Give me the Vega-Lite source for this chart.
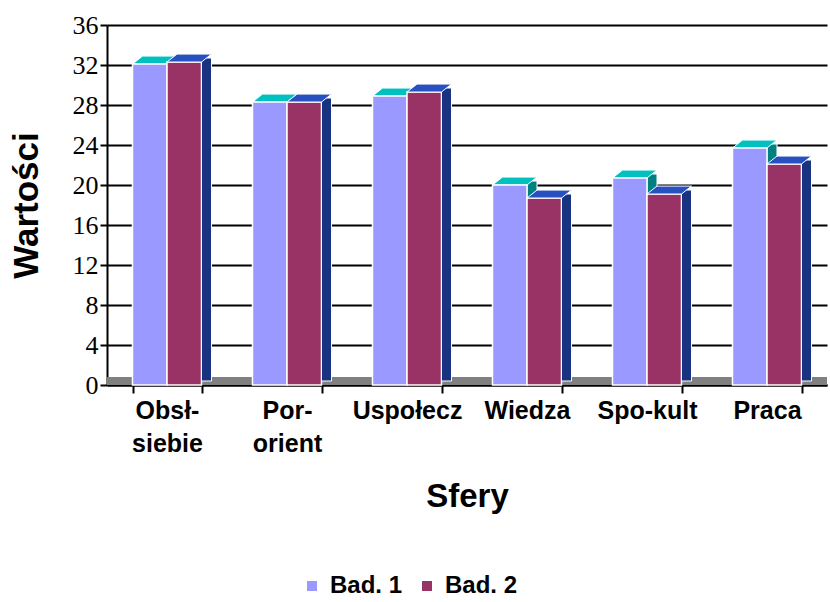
{
  "$schema": "https://vega.github.io/schema/vega-lite/v6.json",
  "width": 720,
  "height": 360,
  "autosize": {"type": "none"},
  "padding": {"left": 107, "top": 25, "right": 3, "bottom": 217},
  "background": "white",
  "config": {"view": {"stroke": null}},
  "data": {
    "values": [
      {"sfera": "Obsł-siebie", "seria": "Bad. 1", "wartosc": 32.1},
      {"sfera": "Obsł-siebie", "seria": "Bad. 2", "wartosc": 32.3},
      {"sfera": "Por-orient", "seria": "Bad. 1", "wartosc": 28.3},
      {"sfera": "Por-orient", "seria": "Bad. 2", "wartosc": 28.3},
      {"sfera": "Uspołecz", "seria": "Bad. 1", "wartosc": 28.9},
      {"sfera": "Uspołecz", "seria": "Bad. 2", "wartosc": 29.3},
      {"sfera": "Wiedza", "seria": "Bad. 1", "wartosc": 20.0},
      {"sfera": "Wiedza", "seria": "Bad. 2", "wartosc": 18.7},
      {"sfera": "Spo-kult", "seria": "Bad. 1", "wartosc": 20.7},
      {"sfera": "Spo-kult", "seria": "Bad. 2", "wartosc": 19.1},
      {"sfera": "Praca", "seria": "Bad. 1", "wartosc": 23.7},
      {"sfera": "Praca", "seria": "Bad. 2", "wartosc": 22.1}
    ]
  },
  "encoding": {
    "x": {
      "field": "sfera",
      "type": "nominal",
      "sort": null,
      "scale": {"paddingInner": 0.425, "paddingOuter": 0.2125},
      "axis": {
        "title": "Sfery",
        "titleFont": "Liberation Sans",
        "titleFontSize": 33,
        "titleFontWeight": "bold",
        "titleColor": "black",
        "titlePadding": 24,
        "labelAngle": 0,
        "labelFont": "Liberation Sans",
        "labelFontSize": 25,
        "labelFontWeight": "bold",
        "labelColor": "black",
        "labelPadding": 5,
        "labelLineHeight": 33,
        "labelExpr": "datum.value == 'Obsł-siebie' ? ['Obsł-', 'siebie'] : datum.value == 'Por-orient' ? ['Por-', 'orient'] : datum.value",
        "tickBand": "extent",
        "tickColor": "black",
        "tickSize": 8,
        "tickWidth": 2,
        "domainColor": "black",
        "domainWidth": 2,
        "grid": false
      }
    },
    "y": {
      "field": "wartosc",
      "type": "quantitative",
      "scale": {"domain": [0, 36], "nice": false},
      "axis": {
        "title": "Wartości",
        "titleFont": "Liberation Sans",
        "titleFontSize": 35,
        "titleFontWeight": "bold",
        "titleColor": "black",
        "titlePadding": 28,
        "values": [0, 4, 8, 12, 16, 20, 24, 28, 32, 36],
        "labelFont": "Liberation Serif",
        "labelFontSize": 26,
        "labelColor": "black",
        "labelPadding": 2,
        "tickColor": "black",
        "tickSize": 7,
        "tickWidth": 2,
        "domainColor": "black",
        "domainWidth": 2,
        "grid": true,
        "gridColor": "black",
        "gridWidth": 2,
        "gridOpacity": 1
      }
    }
  },
  "layer": [
    {
      "mark": {"type": "rule", "color": "#808080", "strokeWidth": 7, "yOffset": -4},
      "encoding": {"y": {"datum": 0}, "x": null}
    },
    {
      "transform": [{"filter": "datum.seria == 'Bad. 1'"}],
      "mark": {"type": "bar", "width": 10, "xOffset": 5, "yOffset": -4, "color": "#008080", "stroke": "white", "strokeWidth": 1}
    },
    {
      "transform": [{"filter": "datum.seria == 'Bad. 1'"}],
      "mark": {"type": "point", "filled": true, "size": 1190, "color": "#00C0C0", "stroke": "white", "strokeWidth": 1, "opacity": 1, "xOffset": -17.25,
        "shape": "M -1 0 L 1 0 L 1.58 -0.46 L -0.42 -0.46 Z"}
    },
    {
      "mark": {"type": "bar", "stroke": "white", "strokeWidth": 1.5},
      "encoding": {
        "xOffset": {"field": "seria", "type": "nominal", "sort": ["Bad. 1", "Bad. 2"]},
        "color": {
          "field": "seria",
          "type": "nominal",
          "scale": {"domain": ["Bad. 1", "Bad. 2"], "range": ["#9999FF", "#993366"]},
          "legend": {
            "title": null,
            "orient": "none",
            "direction": "horizontal",
            "legendX": 193,
            "legendY": 549,
            "symbolType": "square",
            "symbolSize": 100,
            "symbolStrokeWidth": 0,
            "labelFont": "Liberation Sans",
            "labelFontSize": 24,
            "labelFontWeight": "bold",
            "labelColor": "black",
            "columnPadding": 12,
            "labelOffset": 6
          }
        }
      }
    },
    {
      "transform": [{"filter": "datum.seria == 'Bad. 2'"}],
      "mark": {"type": "bar", "width": 10, "xOffset": 39.5, "yOffset": -4, "color": "#1A3380", "stroke": "white", "strokeWidth": 1}
    },
    {
      "transform": [{"filter": "datum.seria == 'Bad. 2'"}],
      "mark": {"type": "point", "filled": true, "size": 1190, "color": "#2850C0", "stroke": "white", "strokeWidth": 1, "opacity": 1, "xOffset": 17.25,
        "shape": "M -1 0 L 1 0 L 1.58 -0.46 L -0.42 -0.46 Z"}
    }
  ]
}
